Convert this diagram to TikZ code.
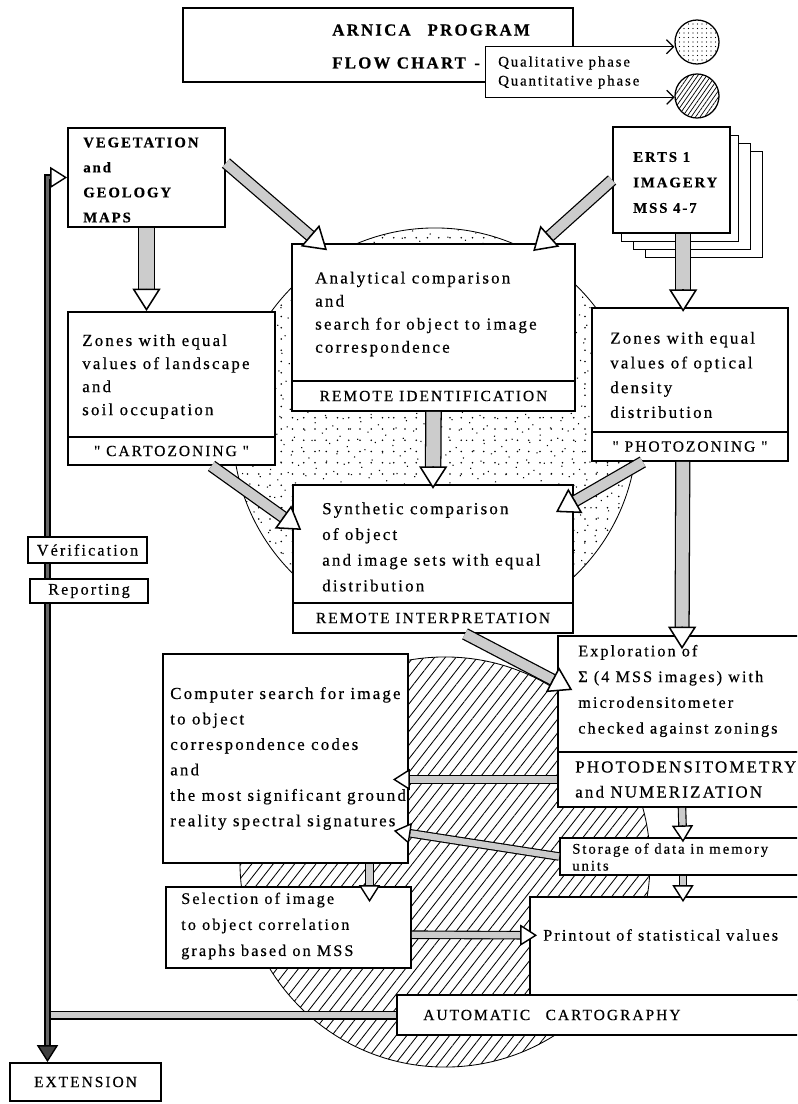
\documentclass[tikz,border=0pt]{standalone}
\usepackage{fontspec}
\newfontfamily\chartfont[LetterSpace=13, FakeBold=0.5]{Liberation Serif}
\usetikzlibrary{arrows.meta, positioning, calc, patterns.meta}
\tikzset{
    % box of the chart (its text is a node of its own)
    panel/.style={draw, line width=1.3pt, fill=white, inner sep=0pt},
    % caption strip closing a box at the bottom
    strip/.style={panel, font=\chartfont\fontsize{11}{13}\selectfont},
    % flush-left text set in the boxes, #1 is the line distance
    bodytext/.style={align=left, inner sep=0pt, anchor=west,
        font=\chartfont\fontsize{12}{#1}\selectfont},
    bodytext/.default=17.5pt,
    boldtext/.style={align=left, inner sep=0pt, anchor=west,
        font=\chartfont\bfseries\fontsize{10.5}{#1}\selectfont},
    boldtext/.default=17.8pt,
    % block arrows: stippled shaft, hollow head
    fatshaft/.style={line width=0.9pt, double=black!20, double distance=7pt},
    slimshaft/.style={line width=0.8pt, double=black!20, double distance=4.5pt},
    fathead/.style={line width=1pt,
        -{Triangle[length=16pt, width=20pt, fill=white, line width=1.1pt]}},
    slimhead/.style={line width=1pt,
        -{Triangle[length=12pt, width=15pt, fill=white, line width=1pt]}},
    % feed-back bar along the left margin
    fbbar/.style={line width=1.2pt, double=black!60, double distance=2.6pt},
    % qualitative (dots) and quantitative (hatch) phase areas
    quali/.style={draw, line width=0.6pt,
        pattern={Dots[radius=0.6pt, distance=8pt]}},
    qualiextra/.style={pattern={Dots[radius=0.55pt, distance=9pt, angle=35, xshift=3pt]}},
    quanti/.style={draw, line width=0.6pt,
        pattern={Lines[angle=52, distance=6pt, line width=0.6pt]}},
    % legend pointers
    pointer/.style={line width=0.9pt,
        {Straight Barb[length=5pt]}-{Straight Barb[length=5pt]}},
}
% block arrow from #2 to #3, #1 goes to the shaft
\newcommand{\fatlink}[3][]{%
    \draw[fatshaft, #1, shorten >=15pt] (#2) -- (#3);
    \draw[fathead] ($(#3)!16pt!(#2)$) -- (#3);
}
\newcommand{\slimlink}[2]{%
    \draw[slimshaft, shorten >=11pt] (#1) -- (#2);
    \draw[slimhead] ($(#2)!12pt!(#1)$) -- (#2);
}

\begin{document}
\begin{tikzpicture}[x=0.025cm, y=-0.025cm]
    \useasboundingbox (0,0) rectangle (797,1104);
    \clip (0,0) rectangle (797,1104);

    % --- phase areas behind the boxes ---
    \draw[quali]  (435,430) circle (5.05cm);
    \fill[qualiextra] (435,430) circle (5.05cm);
    \draw[quanti] (445,862) circle (5.125cm);

    % --- heading and legend ---
    \node[panel, minimum width=9.75cm, minimum height=1.85cm] (title) at (378,45) {};
    \node[boldtext, font=\chartfont\bfseries\fontsize{12}{13}\selectfont] (titleA) at (332,30) {ARNICA\quad PROGRAM};
    \node[boldtext, font=\chartfont\bfseries\fontsize{12}{13}\selectfont] (titleB) at (332,63) {FLOW CHART\enspace -};
    \node[fill=white, inner sep=0pt, minimum width=4.475cm, minimum height=1.25cm] (legend) at (575.5,72) {};
    \node[circle, draw, line width=0.9pt, pattern={Dots[radius=0.5pt, distance=3.2pt]},
        minimum size=1.1cm] (qualmark) at (697,42) {};
    \node[circle, draw, line width=0.9pt, pattern={Lines[angle=55, distance=2.6pt, line width=0.5pt]},
        minimum size=1.1cm] (quantmark) at (697,96) {};
    \draw[pointer] (legend.north west -| qualmark.west) -- (legend.north west)
        -- (legend.south west) -- (legend.south west -| quantmark.west);
    \node[bodytext, font=\chartfont\fontsize{10.5}{12}\selectfont] (qualtxt) at (498,63) {Qualitative phase};
    \node[bodytext, font=\chartfont\fontsize{10.5}{12}\selectfont] (quanttxt) at (498,82) {Quantitative phase};

    % --- sources ---
    \node[panel, minimum width=3.925cm, minimum height=2.475cm] (vegmaps) at (146.5,177.5) {};
    \node[boldtext] (vegtxt) at (83,180) {VEGETATION\\and\\GEOLOGY\\MAPS};
    \foreach \s/\dx/\dy in {3/32.5/24.5, 2/20.5/16.5, 1/8.5/8.5}
        \node[panel, minimum width=2.925cm, minimum height=2.65cm] (sheet\s) at (671.5+\dx, 180+\dy) {};
    \node[panel, minimum width=2.925cm, minimum height=2.65cm] (erts) at (671.5,180) {};
    \node[boldtext=18.1pt] (ertstxt) at (633,182.5) {ERTS 1\\IMAGERY\\MSS 4-7};

    % --- qualitative phase ---
    \node[panel, minimum width=5.175cm, minimum height=3.125cm] (zonesL) at (171.5,374.5) {};
    \node[strip, minimum width=5.175cm, minimum height=0.7cm] (cartozoning) at (171.5,451) {" CARTOZONING "};
    \node[bodytext=16.4pt] (zonesLtxt) at (82,376.5) {Zones with equal\\values of landscape\\and\\soil occupation};

    \node[panel, minimum width=7.075cm, minimum height=3.425cm] (analytic) at (433.5,312.5) {};
    \node[strip, minimum width=7.075cm, minimum height=0.75cm] (remoteid) at (433.5,396) {REMOTE IDENTIFICATION};
    \node[bodytext=16.4pt] (analytictxt) at (315,314) {Analytical comparison\\and\\search for object to image\\correspondence};

    \node[panel, minimum width=4.9cm, minimum height=3.1cm] (zonesR) at (690,370) {};
    \node[strip, minimum width=4.9cm, minimum height=0.725cm] (photozoning) at (690,446.5) {" PHOTOZONING "};
    \node[bodytext=17.6pt] (zonesRtxt) at (610,375) {Zones with equal\\values of optical\\density\\distribution};

    \node[panel, minimum width=7cm, minimum height=2.95cm] (synthetic) at (433,544) {};
    \node[strip, minimum width=7cm, minimum height=0.75cm] (remoteint) at (433,618) {REMOTE INTERPRETATION};
    \node[bodytext=18.3pt] (synthtxt) at (322,547) {Synthetic comparison\\of object\\and image sets with equal\\distribution};

    % --- quantitative phase ---
    \node[panel, minimum width=6.2cm, minimum height=2.9cm] (explore) at (682,694) {};
    \node[panel, minimum width=6.2cm, minimum height=1.375cm] (densitometry) at (682,779.5) {};
    \node[bodytext, font=\chartfont\fontsize{11.5}{18.3pt}\selectfont] (exploretxt) at (578,691)
        {Exploration of\\Σ (4 MSS images) with\\microdensitometer\\checked against zonings};
    \node[bodytext=17.8pt] (denstxt) at (575,779.5) {PHOTODENSITOMETRY\\and NUMERIZATION};

    \node[panel, minimum width=6.125cm, minimum height=5.225cm] (compsearch) at (285.5,758.5) {};
    \node[bodytext=18.1pt] (comptxt) at (170,758.5) {Computer search for image\\to object\\correspondence codes\\and\\the most significant ground\\reality spectral signatures};

    \node[panel, minimum width=6.15cm, minimum height=0.925cm] (storage) at (683,856.5) {};
    \node[bodytext, font=\chartfont\fontsize{10.5}{12pt}\selectfont] (storagetxt) at (572,857) {Storage of data in memory\\units};

    \node[panel, minimum width=6.9cm, minimum height=2.575cm] (printout) at (668,948.5) {};
    \node[bodytext, font=\chartfont\fontsize{11.5}{12}\selectfont] (printtxt) at (543,935) {Printout of statistical values};

    \node[panel, minimum width=6.125cm, minimum height=2.025cm] (selection) at (288.5,927.5) {};
    \node[bodytext, font=\chartfont\fontsize{11.5}{18.5pt}\selectfont] (selecttxt) at (181,926)
        {Selection of image\\to object correlation\\graphs based on MSS};

    \node[panel, minimum width=10.225cm, minimum height=1cm] (autocarto) at (601.5,1015) {};
    \node[bodytext, font=\chartfont\fontsize{11}{13}\selectfont] (autotxt) at (423,1015) {AUTOMATIC\quad CARTOGRAPHY};

    % --- feed-back bar, verification and extension ---
    \node[strip, minimum width=3.775cm, minimum height=0.95cm] (extension) at (85.5,1082) {EXTENSION};
    \coordinate (fbfoot) at ([xshift=-0.95cm]extension.north);
    \draw[fbbar, double=black!20, double distance=4pt] (autocarto.west) -- (autocarto.west -| fbfoot);
    \draw[fbbar, shorten <=11pt, shorten >=11pt] (vegmaps.west) -| (fbfoot);
    \draw[slimhead] ($(vegmaps.west)+(-12pt,0)$) -- (vegmaps.west);
    \draw[line width=1pt, -{Triangle[length=12pt, width=15pt, fill=black!75, line width=1pt]}]
        ($(fbfoot)+(0,12pt)$) -- (fbfoot);
    \node[panel, minimum width=2.975cm, minimum height=0.65cm,
        font=\chartfont\fontsize{11.5}{13}\selectfont] (verif) at (87.5,550) {Vérification};
    \node[panel, minimum width=2.95cm, minimum height=0.6cm,
        font=\chartfont\fontsize{11.5}{13}\selectfont] (report) at (89,591) {Reporting};

    % --- arrow tips that end inside a box ---
    \coordinate (tipvegan)  at ($(analytic.north west)+(0.9cm,-0.18cm)$);
    \coordinate (tiperts)   at ($(analytic.north east)+(-1.07cm,-0.2cm)$);
    \coordinate (tipzonesR) at ($(erts.south |- zonesR.north)+(0.29cm,-0.12cm)$);
    \coordinate (tipsynth)  at ($(synthetic.north)+(0,-0.12cm)$);
    \coordinate (tipcarto)  at ($(synthetic.west)+(0.23cm,0.35cm)$);
    \coordinate (tipphoto)  at ($(synthetic.north east)+(-0.45cm,-0.7cm)$);
    \coordinate (tipexpl)   at ($(explore.north)+(0,-0.35cm)$);
    \coordinate (tipinterp) at ($(explore.west)+(0.38cm,0.1cm)$);
    \coordinate (tipdens)   at ($(compsearch.east |- densitometry.west)+(-0.4cm,0)$);
    \coordinate (tipstore)  at ($(compsearch.south east)+(-0.38cm,0.83cm)$);
    \coordinate (tipdown)   at ($(storage.north)+(0,-0.13cm)$);
    \coordinate (tipprint)  at ($(storage.south |- printout.north)+(0,-0.15cm)$);
    \coordinate (tipselect) at ($(compsearch.south |- selection.north)+(2.1cm,-0.4cm)$);
    \coordinate (tipgraph)  at ($(printout.west)+(0.2cm,0.33cm)$);

    % qualitative phase arrows
    \fatlink[double distance=10pt]{vegmaps.south}{vegmaps.south |- zonesL.north}
    \fatlink{[yshift=0.36cm]vegmaps.east}{tipvegan}
    \fatlink{erts.west}{tiperts}
    \fatlink[double distance=10pt]{[xshift=0.29cm]erts.south}{tipzonesR}
    \fatlink[double distance=10pt]{remoteid.south}{tipsynth}
    \fatlink{[xshift=1cm]cartozoning.south}{tipcarto}
    \fatlink{[xshift=-1.18cm]photozoning.south}{tipphoto}

    % quantitative phase arrows
    \fatlink[double distance=9pt]{[xshift=-0.18cm]photozoning.south}{tipexpl}
    \fatlink{[xshift=0.8cm]remoteint.south}{tipinterp}
    \slimlink{densitometry.west}{tipdens}
    \slimlink{storage.west}{tipstore}
    \slimlink{densitometry.south}{tipdown}
    \slimlink{storage.south}{tipprint}
    \slimlink{[xshift=2.1cm]compsearch.south}{tipselect}
    \slimlink{[yshift=-0.18cm]selection.east}{tipgraph}

\end{tikzpicture}
\end{document}
